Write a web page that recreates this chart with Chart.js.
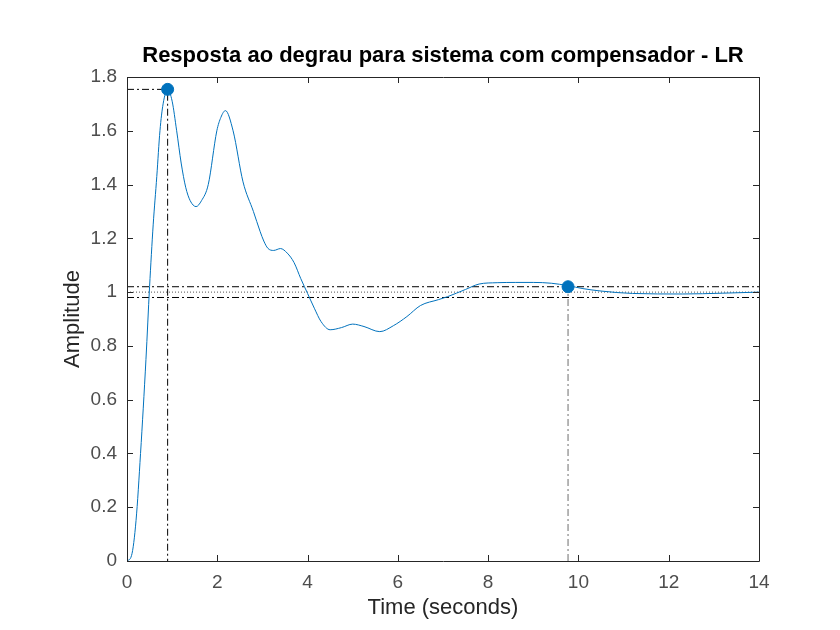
<!DOCTYPE html>
<html>
<head>
<meta charset="utf-8">
<script src="https://cdn.jsdelivr.net/npm/chart.js@4/dist/chart.umd.min.js"></script>
<style>
  html, body { margin: 0; padding: 0; background: #ffffff; }
  #wrap { width: 840px; height: 630px; position: relative; }
</style>
</head>
<body>
<div id="wrap"><canvas id="c" width="840" height="630"></canvas></div>
<script>
// ---- data ----
const timeSeconds = [0, 0.1, 0.2, 0.3, 0.42, 0.5, 0.58, 0.66, 0.73, 0.8, 0.9, 1.0, 1.1, 1.2, 1.3, 1.4, 1.53, 1.65, 1.8, 1.99, 2.08, 2.18, 2.35, 2.57, 2.8, 2.95, 3.03, 3.12, 3.25, 3.4, 3.55, 3.7, 3.85, 4.0, 4.15, 4.3, 4.5, 4.75, 5.0, 5.25, 5.6, 5.9, 6.2, 6.5, 6.9, 7.1, 7.5, 7.8, 8.2, 8.6, 9.0, 9.4, 9.77, 10.1, 10.5, 11.2, 12.3, 13.2, 14];
const amplitude   = [0, 0.02, 0.15, 0.4, 0.75, 1.02, 1.25, 1.43, 1.6, 1.7, 1.754, 1.71, 1.6, 1.48, 1.39, 1.34, 1.318, 1.34, 1.4, 1.6, 1.65, 1.675, 1.6, 1.41, 1.30, 1.225, 1.19, 1.163, 1.155, 1.162, 1.145, 1.11, 1.05, 0.995, 0.94, 0.89, 0.86, 0.868, 0.881, 0.872, 0.853, 0.875, 0.909, 0.95, 0.972, 0.983, 1.01, 1.03, 1.035, 1.036, 1.036, 1.033, 1.024, 1.013, 1.004, 0.995, 0.993, 0.996, 1.0];

const peakPoint   = [0.9, 1.754];    // [time, amplitude]
const settlePoint = [9.77, 1.02];    // [time, amplitude]
const finalValue  = 1.0;
const settleBand  = [0.98, 1.02];

const xTickLabels = ['0', '2', '4', '6', '8', '10', '12', '14'];
const yTickLabels = ['0', '0.2', '0.4', '0.6', '0.8', '1', '1.2', '1.4', '1.6', '1.8'];
const xRange = [0, 14];
const yRange = [0, 1.8];

const titleText  = 'Resposta ao degrau para sistema com compensador - LR';
const xLabelText = 'Time (seconds)';
const yLabelText = 'Amplitude';

// ---- styles ----
const FONT = "'Liberation Sans', Arial, Helvetica, sans-serif";
const BLUE = '#0072BD';
const AXIS = '#262626';
const DASHDOT = [7, 3, 2, 3];

const responseData = timeSeconds.map((t, i) => ({ x: t, y: amplitude[i] }));

function refLine(points, color, dash) {
  return {
    type: 'line',
    data: points.map(p => ({ x: p[0], y: p[1] })),
    borderColor: color,
    borderWidth: 1,
    borderDash: dash,
    pointRadius: 0,
    fill: false,
    tension: 0
  };
}

const boxPlugin = {
  id: 'matlabBox',
  afterDraw(chart) {
    const { ctx, chartArea: a, scales: { x, y } } = chart;
    ctx.save();
    ctx.strokeStyle = AXIS;
    ctx.lineWidth = 1;
    ctx.setLineDash([]);
    ctx.beginPath();
    ctx.rect(Math.round(a.left) + 0.5, Math.round(a.top) + 0.5,
             Math.round(a.right - a.left), Math.round(a.bottom - a.top));
    ctx.stroke();
    const tl = 6;
    ctx.beginPath();
    x.ticks.forEach(t => {
      const px = Math.round(x.getPixelForValue(t.value)) + 0.5;
      ctx.moveTo(px, a.bottom); ctx.lineTo(px, a.bottom - tl);
      ctx.moveTo(px, a.top); ctx.lineTo(px, a.top + tl);
    });
    y.ticks.forEach(t => {
      const py = Math.round(y.getPixelForValue(t.value)) + 0.5;
      ctx.moveTo(a.left, py); ctx.lineTo(a.left + tl, py);
      ctx.moveTo(a.right, py); ctx.lineTo(a.right - tl, py);
    });
    ctx.stroke();
    ctx.restore();
  }
};

new Chart(document.getElementById('c'), {
  type: 'line',
  data: {
    datasets: [
      { type: 'scatter', data: [{ x: peakPoint[0], y: peakPoint[1] }], backgroundColor: BLUE, borderColor: BLUE, pointRadius: 6, pointHoverRadius: 6 },
      { type: 'scatter', data: [{ x: settlePoint[0], y: settlePoint[1] }], backgroundColor: BLUE, borderColor: BLUE, pointRadius: 6, pointHoverRadius: 6 },
      { type: 'line', data: responseData, borderColor: BLUE, borderWidth: 1, pointRadius: 0, fill: false, cubicInterpolationMode: 'monotone' },
      refLine([[xRange[0], peakPoint[1]], [peakPoint[0], peakPoint[1]], [peakPoint[0], yRange[0]]], '#000000', DASHDOT),
      refLine([[settlePoint[0], yRange[0]], [settlePoint[0], settlePoint[1]]], '#6e6e6e', DASHDOT),
      refLine([[xRange[0], settleBand[1]], [xRange[1], settleBand[1]]], '#000000', DASHDOT),
      refLine([[xRange[0], settleBand[0]], [xRange[1], settleBand[0]]], '#000000', DASHDOT),
      refLine([[xRange[0], finalValue], [xRange[1], finalValue]], '#555555', [1, 2])
    ]
  },
  options: {
    responsive: false,
    animation: false,
    events: [],
    layout: { padding: { left: 0, right: 81, top: 0, bottom: 0 } },
    plugins: {
      legend: { display: false },
      tooltip: { enabled: false },
      title: {
        display: true,
        fullSize: false,
        text: titleText,
        color: '#000000',
        font: { family: FONT, size: 22, weight: 'bold', lineHeight: 1.2 },
        padding: { top: 43, bottom: 7.6 }
      }
    },
    scales: {
      x: {
        type: 'linear',
        min: xRange[0], max: xRange[1],
        afterFit(s) { s.height = 69; },
        grid: { display: false, drawTicks: false },
        border: { display: false },
        ticks: {
          stepSize: 2, padding: 10, maxRotation: 0, autoSkip: false,
          color: '#4d4d4d',
          font: { family: FONT, size: 19 },
          callback: (v, i) => xTickLabels[i]
        },
        title: {
          display: true, text: xLabelText, color: AXIS,
          font: { family: FONT, size: 22, lineHeight: 1.2 },
          padding: { top: 0, bottom: 9 }
        }
      },
      y: {
        type: 'linear',
        min: yRange[0], max: yRange[1],
        afterFit(s) { s.width = 127; },
        grid: { display: false, drawTicks: false },
        border: { display: false },
        ticks: {
          stepSize: 0.2, padding: 10, autoSkip: false,
          color: '#4d4d4d',
          font: { family: FONT, size: 19 },
          callback: (v, i) => yTickLabels[i]
        },
        title: {
          display: true, text: yLabelText, color: AXIS,
          font: { family: FONT, size: 22, lineHeight: 1.2 },
          padding: { top: 60, bottom: 0 }
        }
      }
    }
  },
  plugins: [boxPlugin]
});
</script>
</body>
</html>
